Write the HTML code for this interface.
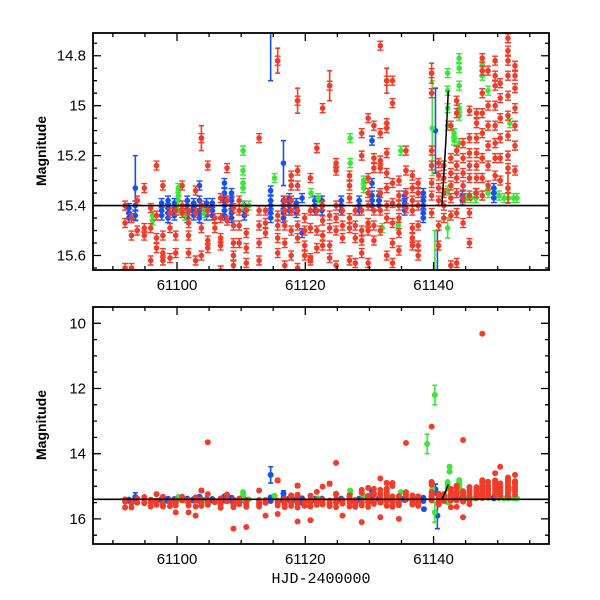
<!DOCTYPE html>
<html><head><meta charset="utf-8">
<style>
html,body{margin:0;padding:0;background:#fff;}
svg{display:block;font-family:"Liberation Sans",sans-serif;}
</style></head>
<body>
<svg id="chart" width="600" height="600" viewBox="0 0 600 600" xmlns="http://www.w3.org/2000/svg">
<defs>
<clipPath id="clipTop"><rect x="93" y="33" width="456" height="237"/></clipPath>
<clipPath id="clipBot"><rect x="93" y="307" width="456" height="237"/></clipPath>
</defs>
<g id="topPanel"></g>
<g id="botPanel"></g>
<text x="0" y="0" transform="translate(46,151) rotate(-90)" text-anchor="middle" font-size="14" font-weight="bold">Magnitude</text>
<text x="0" y="0" transform="translate(46,425) rotate(-90)" text-anchor="middle" font-size="14" font-weight="bold">Magnitude</text>
<text x="321" y="583" text-anchor="middle" font-size="15" font-family="Liberation Mono, monospace">HJD-2400000</text>
</svg>
<script>
// ---- data ----
const refMag = 15.4;
const xTicks = [61100, 61120, 61140];
const topYTicks = [14.8, 15, 15.2, 15.4, 15.6];
const topYTickLabels = ["14.8", "15", "15.2", "15.4", "15.6"];
const botYTicks = [10, 12, 14, 16];
const botYTickLabels = ["10", "12", "14", "16"];

const redDays = [61091.9,61092.9,61093.8,61094.9,61095.9,61096.8,61097.8,61098.9,61099.8,61100.8,61101.8,61102.9,61103.8,61104.8,61105.9,61106.8,61107.8,61108.8,61109.7,61110.8,61112.8,61113.8,61115.7,61116.8,61117.8,61118.8,61119.9,61120.8,61121.8,61122.7,61123.8,61124.8,61125.8,61126.9,61127.8,61128.8,61129.8,61130.7,61131.7,61132.7,61133.6,61134.6,61135.7,61136.7,61137.6,61139.7,61140.8,61141.6,61142.7,61143.6,61144.6,61145.6,61146.7,61147.6,61148.5,61149.6,61150.4,61151.6,61152.7];
const redMags = [
[15.40,15.47,15.65],[15.45,15.52,15.65],[15.38,15.50],[15.33,15.49,15.52],[15.41,15.49,15.62],
[15.24,15.44,15.53,15.57],[15.32,15.52,15.59,15.62],[15.43,15.49,15.61],[15.42,15.52,15.59,15.80],[15.32,15.40,15.43],
[15.42,15.47,15.52,15.59,15.80],[15.34,15.43,15.62,15.90],[15.13,15.40,15.49,15.60],[15.24,15.42,15.54,15.57,13.65],[15.45,15.49],
[15.37,15.45,15.53,15.56,15.66],[15.25,15.38,15.46],[15.41,15.48,15.55,15.60,15.64,16.30],[15.38,15.42,15.48,15.55],[15.42,15.51,15.57,15.63,16.25],
[15.13,15.42,15.48,15.55,15.62],[15.42,15.47,15.51,15.90],[14.82,15.44,15.48,15.53,15.59,15.85],[15.38,15.42,15.48,15.55,15.64],[15.28,15.32,15.38,15.42,15.50,15.60],
[14.98,15.26,15.32,15.42,15.48,15.53,15.65,16.08],[15.45,15.50,15.56,15.60],[15.29,15.42,15.49,15.61,15.62,16.04],[15.17,15.42,15.50,15.57],[15.01,15.40,15.46,15.52,15.56],
[14.92,15.44,15.49,15.56,15.61],[15.23,15.26,15.40,15.45,15.50,15.64,14.28],[15.42,15.48,15.53,15.90],[15.28,15.32,15.37,15.45,15.49,15.62],[15.42,15.48,15.53,15.63],
[15.11,15.20,15.42,15.50,15.54,15.59,16.10],[15.05,15.29,15.35,15.40,15.47,15.50,15.63],[15.08,15.21,15.25,15.42,15.48,15.54],[14.76,15.11,15.22,15.25,15.35,15.42,15.50,15.95],[14.90,15.07,15.09,15.19,15.27,15.33,15.40,15.45,15.60],
[14.90,14.99,15.31,15.39,15.47,15.55,15.63],[15.30,15.36,15.40,15.45,15.51,15.58,16.0],[15.18,15.26,15.35,15.41,13.67],[15.28,15.33,15.38,15.42,15.49,15.53,15.56],[15.31,15.35,15.40,15.48,15.56,15.60],
[14.87,14.95,15.18,15.24,15.31,15.36,15.43,13.17],[15.23,15.28,15.33,15.38,15.48,15.56],[15.24,15.29,15.35,15.40,15.45],[15.08,15.21,15.27,15.32,15.37,15.44,15.64],[14.98,15.03,15.18,15.24,15.29,15.35,15.43,15.63],
[15.15,15.21,15.27,15.32,15.37,15.47,13.58,15.95],[15.02,15.13,15.19,15.24,15.29,15.36,15.43,15.55],[15.03,15.07,15.13,15.19,15.24,15.29,15.35],[14.81,14.86,14.95,15.03,15.11,15.21,15.29,15.36,10.32],[14.86,15.00,15.08,15.16,15.24,15.32],
[14.82,14.88,14.92,15.00,15.08,15.15,15.21,15.28,14.6],[14.91,14.97,15.05,15.13,15.21,15.30,14.4],[14.73,14.78,14.82,14.88,14.96,15.04,15.12,15.20,15.25,15.33],[14.84,14.88,14.93,15.01,15.08,15.16,15.26,14.65]
];
const redErrDays = [61103.8,61115.7,61118.8,61123.8,61132.7,61139.7,61151.6];
const redErrMags = [15.13,14.82,14.98,14.92,14.90,14.87,15.33];
const redErrSizes = [0.05,0.05,0.05,0.06,0.05,0.04,0.06];

const blueDays = [61092.5,61093.5,61097.6,61098.6,61099.6,61101.6,61102.6,61103.5,61104.6,61105.5,61107.4,61108.5,61110.5,61114.6,61116.6,61117.5,61118.6,61119.5,61121.5,61122.6,61125.6,61128.4,61130.4,61131.5,61135.5,61138.4,61138.5,61144.5,61146.6,61149.4];
const blueMags = [[15.41,15.43,15.45],[15.40,15.44],[15.39,15.42,15.44],[15.38,15.41,15.43,15.45],[15.39,15.42,15.44],[15.38,15.40,15.43,15.45],[15.39,15.41,15.42,15.44],[15.32,15.38,15.42,15.45],[15.39,15.42,15.44],[15.39,15.42,15.44],
[15.31,15.35,15.38,15.40,15.42,15.44],[15.35,15.38,15.40,15.43,15.45],[15.40,15.42,15.44],[15.34,15.38,15.40,15.43,15.45],[15.38,15.40,15.43,15.45],[15.37,15.40,15.42],[15.39,15.41,15.43],[15.37,15.51],[15.38,15.40,15.42],[15.38,15.40,15.42],
[15.38,15.40,15.42],[15.38,15.40,15.42],[15.14,15.31,15.36,15.38,15.40],[15.36,15.38,15.40],[15.36,15.39,15.42],[15.35,15.38,15.40,15.43,15.45],[15.70],[15.36,15.38],[15.35,15.37],[15.33,15.35,15.37]];
const blueErrDays = [61093.5,61114.6,61116.6,61140.3,61140.6];
const blueErrMags = [15.33,14.65,15.23,15.10,15.90];
const blueErrSizes = [0.13,0.25,0.09,0.17,0.4];

const greenDays = [61096.2,61100.2,61101.2,61104.3,61110.3,61111.2,61115.2,61120.9,61122.0,61127.0,61129.1,61132.0,61134.5,61134.9,61142.2,61143.2,61144.0,61142.5,61145.0,61145.8,61146.6,61147.6,61148.5,61150.2,61151.0,61151.7,61151.9,61152.5,61153.0];
const greenMags = [[15.44,15.46],[15.33,15.36,15.38,15.42],[15.44],[15.43],[15.18,15.26,15.31,15.33,15.40],[15.40],[15.29],[15.35],[15.37],[15.13,15.23],
[15.30,15.33],[15.49],[15.48],[15.18],[14.87,14.94,15.01,15.08,15.34],[15.11,15.14],[14.81,14.92,15.01,15.04,15.15,14.85],[14.40,14.55],[15.37],[15.37],
[15.37],[14.84,14.88,14.95,15.36],[14.94,15.35],[15.36],[15.37],[15.37],[15.07],[15.37],[15.37]];
const greenErrDays = [61139.8,61140.2,61139.0,61140.2,61142.2];
const greenErrMags = [15.09,12.20,13.70,15.80,15.49];
const greenErrSizes = [0.19,0.30,0.30,0.30,0.04];

const blackDays = [61141.3,61141.9,61142.3];
const blackMags = [15.40,15.15,14.94];

// ---- layout ----
const NS = "http://www.w3.org/2000/svg";
const xMin = 61086.9, xMax = 61158.0, x0 = 93, x1 = 549;
function xs(d){ return x0 + (d - xMin) / (xMax - xMin) * (x1 - x0); }
const panels = [
  {g: document.getElementById('topPanel'), top:33, bot:270, mMin:14.709, mMax:15.658, clip:'url(#clipTop)', ticks:topYTicks, labels:topYTickLabels, minor:0.05, r:2.8, name:'top'},
  {g: document.getElementById('botPanel'), top:307, bot:544, mMin:9.5, mMax:16.77, clip:'url(#clipBot)', ticks:botYTicks, labels:botYTickLabels, minor:0.5, r:3, name:'bottom'}
];
const colors = {red:'#f23c2a', blue:'#1650ee', green:'#3ce43c'};

function mk(tag, attrs, parent){
  const e = document.createElementNS(NS, tag);
  for (const k in attrs) e.setAttribute(k, attrs[k]);
  parent.appendChild(e);
  return e;
}

panels.forEach(p => {
  const ys = m => p.top + (m - p.mMin) / (p.mMax - p.mMin) * (p.bot - p.top);
  const g = p.g;
  const data = mk('g', {'clip-path': p.clip}, g);
  
  

  function series(name, days, mags, eDays, eMags, eSizes){
    const sg = mk('g', {fill: colors[name], stroke: colors[name]}, data);
    
    
    eDays.forEach((d, i) => {
      const x = xs(d), yt = ys(eMags[i] - eSizes[i]), yb = ys(eMags[i] + eSizes[i]);
      const bar = mk('path', {d:`M${x},${yt}V${yb}M${x-2.5},${yt}H${x+2.5}M${x-2.5},${yb}H${x+2.5}`, 'stroke-width':1.6, fill:'none'}, sg);
      
      
      const pt = mk('circle', {cx:x, cy:ys(eMags[i]), r:p.r, stroke:'none'}, sg);
      
      
    });
    days.forEach((d, i) => {
      mags[i].forEach(m => {
        const x = xs(d), y = ys(m);
        if (p.name === 'top') {
          const cap = mk('path', {d:`M${x-3},${y-4.5}H${x+3}M${x-3},${y+4.5}H${x+3}M${x},${y-4.5}V${y+4.5}`, 'stroke-width':1.4, fill:'none'}, sg);
          
          
        }
        const pt = mk('circle', {cx:x, cy:y, r:p.r, stroke:'none'}, sg);
        
        
      });
    });
  }
  series('blue', blueDays, blueMags, blueErrDays, blueErrMags, blueErrSizes);
  series('green', greenDays, greenMags, greenErrDays, greenErrMags, greenErrSizes);
  series('red', redDays, redMags, redErrDays, redErrMags, redErrSizes);

  const bl = mk('polyline', {points: blackDays.map((d,i)=>xs(d)+','+ys(blackMags[i])).join(' '), fill:'none', stroke:'#000', 'stroke-width':1.5}, data);
  
  

  const ref = mk('line', {x1:x0, x2:x1, y1:ys(refMag), y2:ys(refMag), stroke:'#000', 'stroke-width':1.6}, g);
  
  

  let tp = '';
  for (let d = 61090; d <= xMax; d += 5) {
    const x = xs(d), L = (d % 20 === 0) ? 8 : 4;
    tp += `M${x},${p.bot}v${-L}M${x},${p.top}v${L}`;
  }
  const mStart = Math.ceil(p.mMin / p.minor - 1e-9);
  for (let k = mStart; k * p.minor <= p.mMax + 1e-9; k++) {
    const m = k * p.minor, y = ys(m);
    const major = p.ticks.some(t => Math.abs(t - m) < 1e-6);
    const L = major ? 8 : 4;
    tp += `M${x0},${y}h${L}M${x1},${y}h${-L}`;
  }
  const ticks = mk('path', {d: tp, stroke:'#000', 'stroke-width':1.3, fill:'none'}, g);
  
  

  const frame = mk('rect', {x:x0, y:p.top, width:x1-x0, height:p.bot-p.top, fill:'none', stroke:'#000', 'stroke-width':1.8}, g);
  
  

  xTicks.forEach(t => {
    const tx = mk('text', {x: xs(t), y: p.bot + 20, 'text-anchor':'middle', 'font-size':15}, g);
    tx.textContent = String(t);
    
    
  });
  p.ticks.forEach((t, i) => {
    const ty = mk('text', {x: x0 - 7, y: ys(t) + 5, 'text-anchor':'end', 'font-size':15}, g);
    ty.textContent = p.labels[i];
    
    
  });
});
</script>
</body></html>
